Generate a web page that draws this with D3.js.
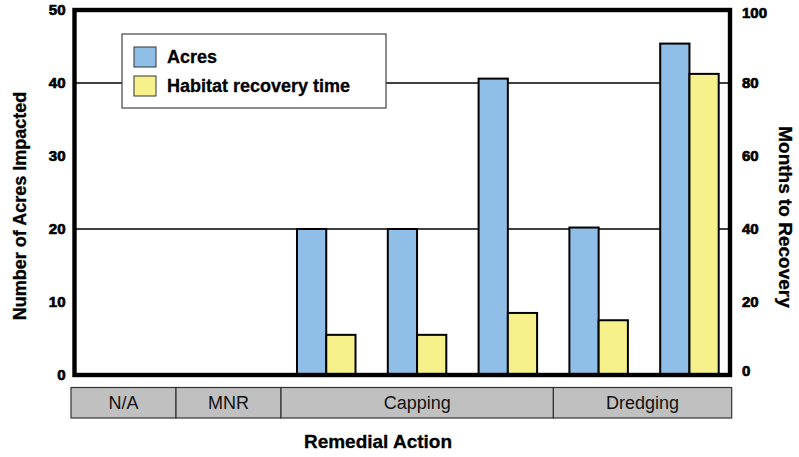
<!DOCTYPE html>
<html>
<head>
<meta charset="utf-8">
<script src="https://cdn.jsdelivr.net/npm/d3@7"></script>
<style>
  body { margin: 0; background: #fff; }
  text { font-family: "Liberation Sans", Arial, sans-serif; }
</style>
</head>
<body>
<div id="chart"></div>
<script>
/* Groups along the bottom, and which group each bar pair belongs to */
const groups = ['N/A', 'MNR', 'Capping', 'Dredging'];
const slotGroup = ['Capping', 'Capping', 'Capping', 'Dredging', 'Dredging'];
/* Series values, one per bar pair */
const acres = [20, 20, 40.6, 20.2, 45.4];
const months = [11, 11, 17, 15, 82.5];
const series = ['Acres', 'Habitat recovery time'];
const colors = ['#8fbfe6', '#f7f18c'];
/* tick labels */
const leftTicks = [0, 10, 20, 30, 40, 50];
const rightTicks = [0, 20, 40, 60, 80, 100];
const gridTicks = [20, 40];

const width = 799;
const height = 457;
const plot = { left: 74.5, right: 730, top: 10, bottom: 375 };

const svg = d3.select('#chart')
  .append('svg')
  .attr('width', width)
  .attr('height', height);

const y = d3.scaleLinear().domain([0, 50]).range([plot.bottom, plot.top]);
const yR = d3.scaleLinear().domain([0, 100]).range([plot.bottom, plot.top]);

// one slot per bar pair, empty groups share what is left on the left
const slots = d3.range(acres.length);
const x = d3.scaleBand().domain(slots).range([281, 735]);
const inner = d3.scaleBand().domain(series).range([16, 16 + 58.5]);
const emptyGroups = groups.filter(g => !slotGroup.includes(g));
const xEmpty = d3.scaleBand().domain(emptyGroups).range([71, x(0)]);

// gridlines
svg.append('g')
  .selectAll('line')
  .data(gridTicks)
  .enter()
  .append('line')
  .attr('x1', plot.left)
  .attr('x2', plot.right)
  .attr('y1', d => y(d))
  .attr('y2', d => y(d))
  .attr('stroke', '#000')
  .attr('stroke-width', 1.3);

// legend (white box sits over the gridline)
const legend = svg.append('g').attr('transform', 'translate(122,34)');
legend.append('rect')
  .attr('width', 264)
  .attr('height', 74)
  .attr('fill', '#fff')
  .attr('stroke', '#444')
  .attr('stroke-width', 1.2);
const legendItem = legend.selectAll('g.item')
  .data(series)
  .enter()
  .append('g')
  .attr('class', 'item')
  .attr('transform', (d, i) => `translate(12, ${13 + i * 29})`);
legendItem.append('rect')
  .attr('width', 22)
  .attr('height', 20)
  .attr('fill', (d, i) => colors[i])
  .attr('stroke', '#333')
  .attr('stroke-width', 1);
legendItem.append('text')
  .attr('x', 33)
  .attr('y', 10)
  .attr('dy', '.35em')
  .attr('font-size', 18)
  .attr('font-weight', 'bold')
  .attr('stroke', '#000')
  .attr('stroke-width', 0.3)
  .text(d => d);

// bars
const barData = slots.flatMap(i => [
  { slot: i, key: series[0], value: y(acres[i]) },
  { slot: i, key: series[1], value: yR(months[i]) }
]);
svg.append('g')
  .selectAll('rect')
  .data(barData)
  .enter()
  .append('rect')
  .attr('x', d => x(d.slot) + inner(d.key))
  .attr('width', inner.bandwidth())
  .attr('y', d => d.value)
  .attr('height', d => plot.bottom - d.value)
  .attr('fill', d => colors[series.indexOf(d.key)])
  .attr('stroke', '#000')
  .attr('stroke-width', 2);

// frame
svg.append('rect')
  .attr('x', plot.left)
  .attr('y', plot.top)
  .attr('width', plot.right - plot.left)
  .attr('height', plot.bottom - plot.top)
  .attr('fill', 'none')
  .attr('stroke', '#000')
  .attr('stroke-width', 4.4);

// axes
const leftAxis = svg.append('g')
  .attr('transform', `translate(${plot.left},0)`)
  .call(d3.axisLeft(y).tickValues(leftTicks).tickSize(0).tickPadding(9));
const rightAxis = svg.append('g')
  .attr('transform', `translate(${plot.right},0)`)
  .call(d3.axisRight(yR).tickValues(rightTicks).tickSize(0).tickPadding(12));
[leftAxis, rightAxis].forEach(a => {
  a.select('.domain').remove();
  a.selectAll('text')
    .attr('font-family', '"Liberation Sans", Arial, sans-serif')
    .attr('font-size', 15)
    .attr('font-weight', 'bold')
    .attr('fill', '#000')
    .attr('stroke', '#000')
    .attr('stroke-width', 0.7);
});
rightAxis.selectAll('text').filter(d => d === 0).attr('y', -4);
rightAxis.selectAll('text').filter(d => d === 100).attr('y', 3);

// category boxes
const groupBoxes = groups.map(g => {
  if (emptyGroups.includes(g)) {
    return { label: g, x0: xEmpty(g), x1: xEmpty(g) + xEmpty.bandwidth() };
  }
  const idx = slots.filter(i => slotGroup[i] === g);
  const x0 = x(idx[0]);
  const x1 = Math.min(x(idx[idx.length - 1]) + x.bandwidth(), plot.right + 1.7);
  return { label: g, x0, x1 };
});
const box = svg.append('g')
  .selectAll('g')
  .data(groupBoxes)
  .enter()
  .append('g');
box.append('rect')
  .attr('x', d => d.x0)
  .attr('y', 387.5)
  .attr('width', d => d.x1 - d.x0)
  .attr('height', 30.5)
  .attr('fill', '#c0c0c0')
  .attr('stroke', '#333')
  .attr('stroke-width', 1.2);
box.append('text')
  .attr('x', d => (d.x0 + d.x1) / 2)
  .attr('y', 403)
  .attr('dy', '.35em')
  .attr('text-anchor', 'middle')
  .attr('font-size', 18)
  .attr('fill', '#111')
  .text(d => d.label);

// axis titles
svg.append('text')
  .attr('transform', 'translate(20,206) rotate(-90)')
  .attr('text-anchor', 'middle')
  .attr('dy', '.35em')
  .attr('font-size', 18)
  .attr('font-weight', 'bold')
  .attr('stroke', '#000')
  .attr('stroke-width', 0.3)
  .text('Number of Acres Impacted');

svg.append('text')
  .attr('transform', 'translate(786,217) rotate(90)')
  .attr('text-anchor', 'middle')
  .attr('dy', '.35em')
  .attr('font-size', 19)
  .attr('font-weight', 'bold')
  .attr('stroke', '#000')
  .attr('stroke-width', 0.3)
  .text('Months to Recovery');

svg.append('text')
  .attr('x', 378)
  .attr('y', 441)
  .attr('dy', '.35em')
  .attr('text-anchor', 'middle')
  .attr('font-size', 19)
  .attr('font-weight', 'bold')
  .attr('stroke', '#000')
  .attr('stroke-width', 0.3)
  .text('Remedial Action');
</script>
</body>
</html>
